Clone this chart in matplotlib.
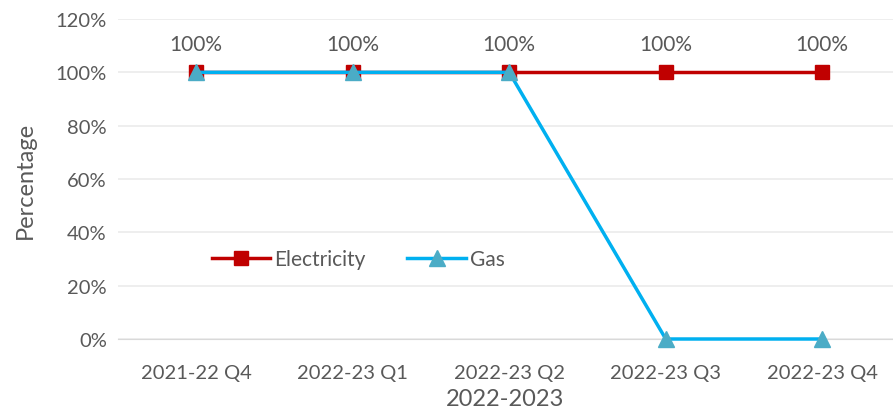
import matplotlib
matplotlib.use("Agg")
import matplotlib.pyplot as plt
from matplotlib.ticker import PercentFormatter

plt.rcParams['font.family'] = ['Lato', 'DejaVu Sans']

categories = ["2021-22 Q4", "2022-23 Q1", "2022-23 Q2", "2022-23 Q3", "2022-23 Q4"]
electricity = [100, 100, 100, 100, 100]
gas = [100, 100, 100, 0, 0]

txt = "#595959"
fig = plt.figure(figsize=(8.93, 4.14), dpi=100)
ax = fig.add_axes([118/893, 1-340/414, 1-118/893, 320/414])

x = list(range(len(categories)))
ax.plot(x, electricity, color="#C00000", lw=2.5, marker="s", ms=10.5,
        mfc="#C00000", mec="#C00000", label="Electricity", zorder=3, clip_on=False)
ax.plot(x, gas, color="#00B0F0", lw=2.5, marker="^", ms=11.5,
        mfc="#4BACC6", mec="#4BACC6", label="Gas", zorder=4, clip_on=False)

for xi, v in zip(x, electricity):
    ax.annotate(f"{v}%", (xi, v), xytext=(0, 13), textcoords="offset points",
                ha="center", va="bottom", fontsize=15, color=txt)

ax.set_xlim(-0.5, -0.5 + 775/156.5)
ax.set_ylim(0, 120)
ax.set_yticks(range(0, 121, 20))
ax.yaxis.set_major_formatter(PercentFormatter(decimals=0))
ax.set_xticks(x)
ax.set_xticklabels(categories)
ax.grid(axis="y", color="#EBEBEB", lw=1.2)
ax.set_axisbelow(True)
for s in ax.spines.values():
    s.set_visible(False)
ax.spines["bottom"].set_visible(True)
ax.spines["bottom"].set_color("#D9D9D9")
ax.tick_params(axis="both", length=0, labelsize=14.5, labelcolor=txt, pad=8)
ax.tick_params(axis="x", pad=18)
ax.set_xlabel("2022-2023", fontsize=17, color=txt, labelpad=5)
ax.set_ylabel("Percentage", fontsize=17, color=txt, labelpad=14)

leg = ax.legend(loc="center", bbox_to_anchor=(0.31, 30/120), ncol=2, frameon=False,
                fontsize=15, labelcolor=txt, handlelength=2.8, columnspacing=2.0,
                handletextpad=0.2)

fig.savefig("out.png", dpi=100)
